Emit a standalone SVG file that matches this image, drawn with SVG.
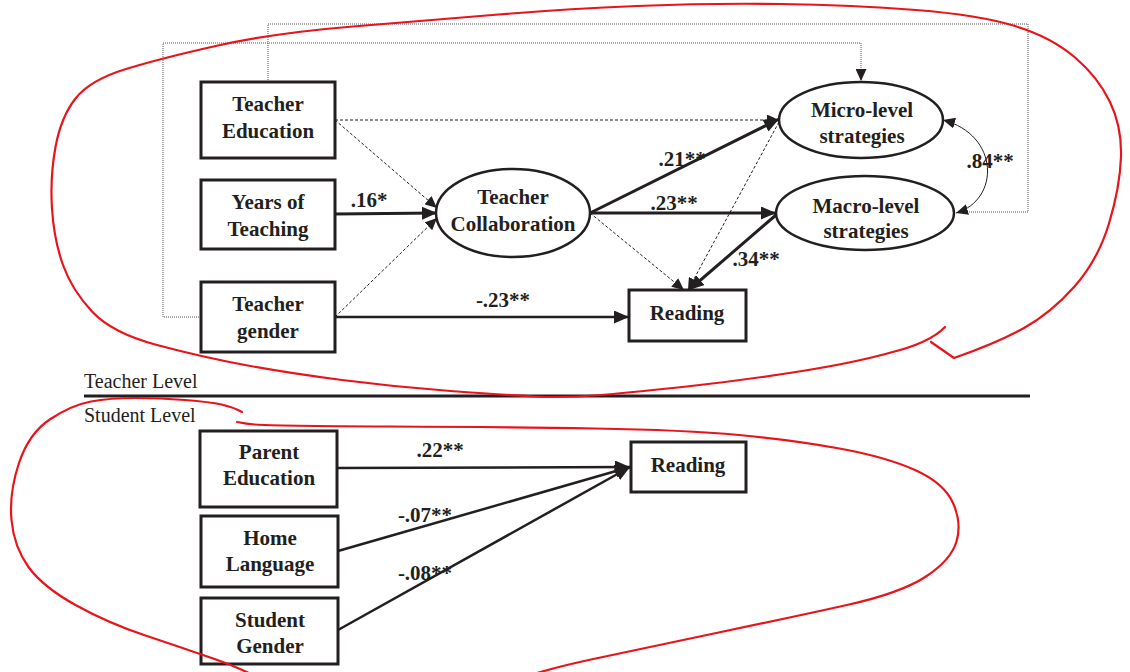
<svg xmlns="http://www.w3.org/2000/svg" width="1130" height="672" viewBox="0 0 1130 672">
<defs>
<marker id="arr" markerUnits="userSpaceOnUse" markerWidth="16" markerHeight="13" refX="15" refY="6.5" orient="auto"><path d="M0,0 L15,6.5 L0,13 z" fill="#231f20"/></marker>
<marker id="arrs" markerUnits="userSpaceOnUse" markerWidth="13" markerHeight="11" refX="12" refY="5.5" orient="auto-start-reverse"><path d="M0,0 L12,5.5 L0,11 z" fill="#231f20"/></marker>
<style>
.box{fill:#fff;stroke:#231f20;stroke-width:3}
.ell{fill:#fff;stroke:#231f20;stroke-width:2.5}
.t{font-family:"Liberation Serif","Times New Roman",serif;font-weight:bold;font-size:21px;fill:#231f20;text-anchor:middle}
.lv{font-family:"Liberation Serif","Times New Roman",serif;font-size:20px;fill:#231f20}
.bold{fill:none;stroke:#231f20;stroke-width:3}
.solid{fill:none;stroke:#231f20;stroke-width:2.5}
.dash{fill:none;stroke:#231f20;stroke-width:1;stroke-dasharray:3,2}
.dot{fill:none;stroke:#555;stroke-width:1;stroke-dasharray:1,1}
.thin{fill:none;stroke:#231f20;stroke-width:1}
.red{fill:none;stroke:#e8141b;stroke-width:2.2;stroke-linecap:round;stroke-linejoin:round}
</style>
</defs>
<rect width="1130" height="672" fill="#fff"/>
<g id="connectors">
<path class="dot" d="M268,82 V24 H1028 V212 H958"/>
<path class="dot" d="M201,317 H163 V43 H861 V81" marker-end="url(#arrs)"/>
<path class="dash" d="M335,120 L437,208" marker-end="url(#arrs)"/>
<path class="bold" d="M335,214 L437,213" marker-end="url(#arr)"/>
<path class="dash" d="M335,317 L437,218" marker-end="url(#arrs)"/>
<path class="solid" d="M335,317 L629,317" marker-end="url(#arr)"/>
<path class="dash" d="M335,120 L779,120" marker-end="url(#arrs)"/>
<path class="bold" d="M590,213 L779,119" marker-end="url(#arr)"/>
<path class="bold" d="M590,213 L776,213" marker-end="url(#arr)"/>
<path class="dash" d="M590,213 L684,290" marker-end="url(#arrs)"/>
<path class="dash" d="M779,122 L688,290" marker-end="url(#arrs)"/>
<path class="bold" d="M776,215 L689,290" marker-end="url(#arr)"/>
<path class="thin" d="M943,120 C1000,135 1000,200 956,213" marker-start="url(#arrs)" marker-end="url(#arrs)"/>
<path class="solid" d="M337,468 L630,467" marker-end="url(#arr)"/>
<path class="solid" d="M338,551 L630,467" marker-end="url(#arr)"/>
<path class="solid" d="M338,630 L630,467" marker-end="url(#arr)"/>
</g>
<g id="teacher-education"><rect class="box" x="201" y="82" width="134" height="76"/><text class="t" x="268" y="111">Teacher</text><text class="t" x="268" y="138">Education</text></g>
<g id="years-of-teaching"><rect class="box" x="201" y="180" width="134" height="69"/><text class="t" x="268" y="209">Years of</text><text class="t" x="268" y="236">Teaching</text></g>
<g id="teacher-gender"><rect class="box" x="201" y="282" width="134" height="70"/><text class="t" x="268" y="311">Teacher</text><text class="t" x="268" y="338">gender</text></g>
<g id="teacher-collaboration"><ellipse class="ell" cx="513" cy="213" rx="77" ry="44"/><text class="t" x="513" y="204">Teacher</text><text class="t" x="513" y="231">Collaboration</text></g>
<g id="micro-level"><ellipse class="ell" cx="861" cy="120" rx="82" ry="38"/><text class="t" x="862" y="117">Micro-level</text><text class="t" x="862" y="143">strategies</text></g>
<g id="macro-level"><ellipse class="ell" cx="865" cy="213" rx="89" ry="37"/><text class="t" x="866" y="213">Macro-level</text><text class="t" x="866" y="238">strategies</text></g>
<g id="reading-teacher"><rect class="box" x="629" y="290" width="117" height="51"/><text class="t" x="687" y="320">Reading</text></g>
<g id="parent-education"><rect class="box" x="200" y="431" width="137" height="76"/><text class="t" x="269" y="459">Parent</text><text class="t" x="269" y="485">Education</text></g>
<g id="home-language"><rect class="box" x="201" y="516" width="137" height="71"/><text class="t" x="270" y="545">Home</text><text class="t" x="270" y="571">Language</text></g>
<g id="student-gender"><rect class="box" x="201" y="598" width="137" height="66"/><text class="t" x="270" y="627">Student</text><text class="t" x="270" y="653">Gender</text></g>
<g id="reading-student"><rect class="box" x="631" y="442" width="115" height="50"/><text class="t" x="688" y="472">Reading</text></g>
<g id="labels">
<text class="t" x="369" y="207">.16*</text>
<text class="t" x="503" y="307">-.23**</text>
<text class="t" x="682" y="166">.21**</text>
<text class="t" x="674" y="210">.23**</text>
<text class="t" x="756" y="266">.34**</text>
<text class="t" x="990" y="168">.84**</text>
<text class="t" x="440" y="457">.22**</text>
<text class="t" x="425" y="522">-.07**</text>
<text class="t" x="425" y="580">-.08**</text>
</g>
<g id="levels">
<text class="lv" x="84" y="388">Teacher Level</text>
<line x1="84" y1="396" x2="1030" y2="396" stroke="#231f20" stroke-width="3"/>
<text class="lv" x="84" y="422">Student Level</text>
</g>
<g id="annotations">
<path class="red" d="M945,327 Q930,343 889,353 Q853,363 799,371.5 Q745,380 691,386 Q637,392 601,395 Q565,398 535,396.5 Q505,395 450.5,391 Q396,387 342,380 Q288,373 245,365 Q202,357 157,345 Q112,333 92,311.5 Q72,290 63,265 Q54,240 52,208.5 Q50,177 55.5,147 Q61,117 75.5,98.5 Q90,80 126,69 Q162,58 218,45.5 Q274,33 353,26.5 Q432,20 498.5,14.5 Q565,9 637,6 Q709,3 781,4 Q853,5 916,10 Q979,15 1015,26 Q1051,37 1074.5,57 Q1098,77 1110,102 Q1122,127 1121,157 Q1120,187 1109,223.5 Q1098,260 1074.5,286.5 Q1051,313 1024,328 Q997,343 954,358 L931,342"/>
<path class="red" d="M242,412 Q233,407 221.5,404.5 Q210,402 185,400 Q160,398 135,398 Q110,398 91,401.5 Q72,405 50.5,419 Q29,433 19,463 Q9,493 11.5,520 Q14,547 28.5,567 Q43,587 75.5,605 Q108,623 144,635 Q180,647 216,659.5 Q252,672 300,700"/>
<path class="red" d="M500,686 Q533,672 591,659.5 Q649,647 721,632 Q793,617 847,605 Q901,593 926,576.5 Q951,560 956.5,541.5 Q962,523 953,503 Q944,483 915,470 Q886,457 839.5,448.5 Q793,440 739,435 Q685,430 594.5,428.5 Q504,427 389,426.5 Q274,426 255,424.5 Q247,424 237,422"/>
</g>
</svg>
